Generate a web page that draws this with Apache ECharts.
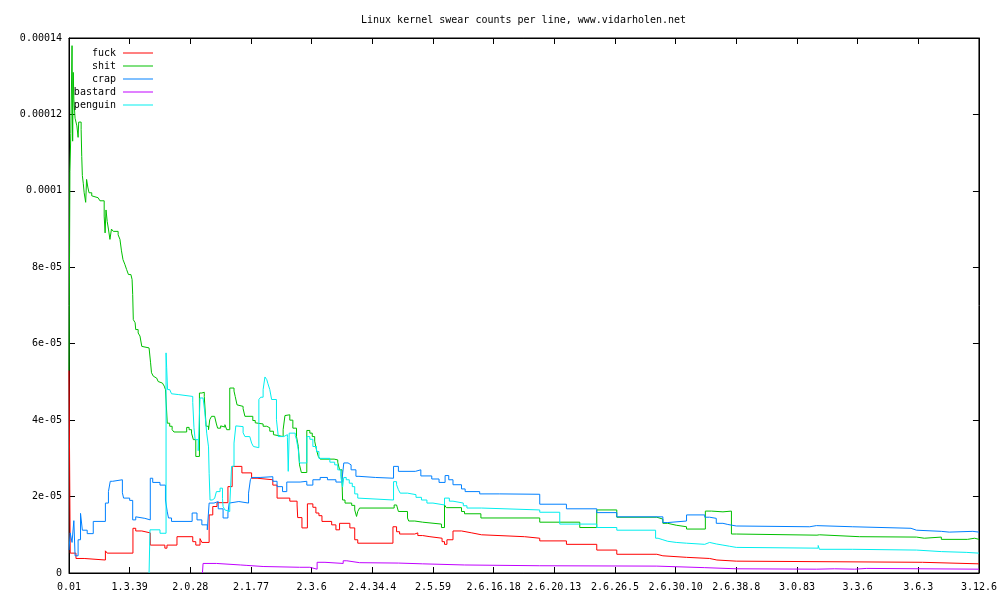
<!DOCTYPE html>
<html>
<head>
<meta charset="utf-8">
<script src="https://cdn.jsdelivr.net/npm/echarts@6/dist/echarts.min.js"></script>
<style>html,body{margin:0;padding:0;background:#fff}#chart{width:1000px;height:600px}</style>
</head>
<body>
<div id="chart"></div>
<script>
// Tick labels (kernel versions) at each x tick, and y tick labels
const xTickLabels = ['0.01','1.3.39','2.0.28','2.1.77','2.3.6','2.4.34.4','2.5.59','2.6.16.18','2.6.20.13','2.6.26.5','2.6.30.10','2.6.38.8','3.0.83','3.3.6','3.6.3','3.12.6'];
const yTickLabels = ['0','2e-05','4e-05','6e-05','8e-05','0.0001','0.00012','0.00014'];
const seriesNames = ['fuck','shit','crap','bastard','penguin'];

// [x position in tick units, swear count per line]
const fuckData = [[0,5.3e-5],[0.02,0.52e-5],[0.115,0.38e-5],[0.25,0.34e-5],[0.6,0.58e-5],[0.63,0.52e-5],[1.054,1.17e-5],[1.1,1.1e-5],[1.2,1.05e-5],[1.34,0.73e-5],[1.58,0.65e-5],[1.615,0.73e-5],[1.78,0.95e-5],[2.04,0.82e-5],[2.09,0.73e-5],[2.16,0.9e-5],[2.19,0.8e-5],[2.31,1.52e-5],[2.37,1.74e-5],[2.44,1.84e-5],[2.62,2.26e-5],[2.69,2.79e-5],[2.85,2.62e-5],[3.01,2.48e-5],[3.1,2.44e-5],[3.36,2.3e-5],[3.43,1.96e-5],[3.64,1.88e-5],[3.76,1.78e-5],[3.77,1.45e-5],[3.84,1.18e-5],[3.93,1.81e-5],[4.02,1.72e-5],[4.07,1.57e-5],[4.12,1.5e-5],[4.17,1.35e-5],[4.33,1.26e-5],[4.4,1.13e-5],[4.46,1.3e-5],[4.63,1.18e-5],[4.71,0.87e-5],[4.76,0.78e-5],[5.34,1.21e-5],[5.4,1.08e-5],[5.45,1.02e-5],[5.7,1.05e-5],[5.75,0.98e-5],[5.83,0.95e-5],[5.95,0.91e-5],[6.15,0.82e-5],[6.19,0.75e-5],[6.23,0.87e-5],[6.33,1.1e-5],[6.47,1.05e-5],[6.64,1.0e-5],[6.8,0.95e-5],[7.51,0.91e-5],[7.76,0.84e-5],[8.2,0.75e-5],[8.7,0.6e-5],[9.03,0.49e-5],[9.69,0.45e-5],[9.79,0.41e-5],[10.18,0.38e-5],[10.56,0.34e-5],[10.68,0.31e-5],[11.0,0.28e-5],[14.07,0.24e-5],[15,0.24e-5]];

const shitData = [[0,5.3e-5],[0.015,10.5e-5],[0.03,11.5e-5],[0.05,13.8e-5],[0.06,11.3e-5],[0.07,13.1e-5],[0.08,12.4e-5],[0.1,11.9e-5],[0.13,11.7e-5],[0.15,11.4e-5],[0.16,11.8e-5],[0.2,11.6e-5],[0.21,10.9e-5],[0.22,10.4e-5],[0.235,10.2e-5],[0.25,9.95e-5],[0.275,9.7e-5],[0.29,10.3e-5],[0.31,10.1e-5],[0.33,9.95e-5],[0.375,9.87e-5],[0.38,9.82e-5],[0.48,9.78e-5],[0.51,9.74e-5],[0.58,9.34e-5],[0.595,8.9e-5],[0.61,9.5e-5],[0.63,9.2e-5],[0.65,9.0e-5],[0.675,8.73e-5],[0.7,9.0e-5],[0.73,8.94e-5],[0.81,8.85e-5],[0.84,8.73e-5],[0.865,8.43e-5],[0.89,8.2e-5],[0.92,8.08e-5],[0.95,7.94e-5],[0.98,7.81e-5],[1.02,7.77e-5],[1.04,7.68e-5],[1.05,7.29e-5],[1.06,6.63e-5],[1.09,6.55e-5],[1.1,6.37e-5],[1.14,6.28e-5],[1.17,6.2e-5],[1.2,5.93e-5],[1.23,5.89e-5],[1.32,5.85e-5],[1.345,5.5e-5],[1.36,5.24e-5],[1.39,5.15e-5],[1.42,5.1e-5],[1.445,5.06e-5],[1.47,5.01e-5],[1.5,4.97e-5],[1.54,4.93e-5],[1.57,4.89e-5],[1.59,4.8e-5],[1.62,3.92e-5],[1.66,3.84e-5],[1.7,3.75e-5],[1.73,3.69e-5],[1.94,3.81e-5],[1.98,3.75e-5],[2.02,3.66e-5],[2.05,3.49e-5],[2.09,3.05e-5],[2.15,4.71e-5],[2.19,4.73e-5],[2.23,4.62e-5],[2.26,3.84e-5],[2.3,3.75e-5],[2.32,4.01e-5],[2.35,4.1e-5],[2.4,4.05e-5],[2.43,3.9e-5],[2.45,3.79e-5],[2.5,3.85e-5],[2.53,3.82e-5],[2.57,3.88e-5],[2.6,3.75e-5],[2.65,4.84e-5],[2.72,4.76e-5],[2.74,4.62e-5],[2.77,4.4e-5],[2.8,4.36e-5],[2.87,4.3e-5],[2.9,4.1e-5],[3.03,3.99e-5],[3.07,3.93e-5],[3.1,3.9e-5],[3.2,3.84e-5],[3.26,3.8e-5],[3.31,3.71e-5],[3.37,3.62e-5],[3.4,3.57e-5],[3.53,3.75e-5],[3.56,4.12e-5],[3.59,4.14e-5],[3.64,4.0e-5],[3.69,3.79e-5],[3.75,3.57e-5],[3.78,3.31e-5],[3.8,2.83e-5],[3.83,2.63e-5],[3.92,3.73e-5],[3.97,3.66e-5],[4.01,3.57e-5],[4.05,3.45e-5],[4.08,3.22e-5],[4.11,3.05e-5],[4.14,2.98e-5],[4.37,2.96e-5],[4.43,2.9e-5],[4.46,2.7e-5],[4.5,2.45e-5],[4.51,1.91e-5],[4.55,1.83e-5],[4.66,1.77e-5],[4.71,1.65e-5],[4.74,1.48e-5],[4.76,1.61e-5],[4.79,1.7e-5],[5.36,1.78e-5],[5.4,1.83e-5],[5.43,1.61e-5],[5.58,1.44e-5],[5.6,1.36e-5],[5.7,1.33e-5],[5.83,1.3e-5],[5.86,1.28e-5],[6.14,1.19e-5],[6.19,1.78e-5],[6.22,1.71e-5],[6.47,1.61e-5],[6.52,1.55e-5],[6.79,1.44e-5],[7.76,1.33e-5],[8.42,1.19e-5],[8.7,1.65e-5],[9.03,1.46e-5],[9.69,1.41e-5],[9.79,1.3e-5],[9.87,1.25e-5],[10.01,1.21e-5],[10.18,1.15e-5],[10.49,1.62e-5],[10.59,1.6e-5],[10.78,1.62e-5],[10.92,1.02e-5],[11.0,0.99e-5],[12.33,1.0e-5],[12.37,0.95e-5],[13.03,0.94e-5],[13.97,0.91e-5],[14.1,0.94e-5],[14.38,0.88e-5],[14.81,0.91e-5],[14.93,0.88e-5],[15,0.88e-5]];

const crapData = [[0,0.6e-5],[0.02,1.05e-5],[0.05,0.8e-5],[0.08,1.37e-5],[0.1,0.45e-5],[0.15,0.87e-5],[0.19,1.56e-5],[0.22,1.12e-5],[0.3,1.03e-5],[0.4,1.35e-5],[0.6,1.83e-5],[0.65,2.13e-5],[0.68,2.4e-5],[0.72,2.44e-5],[0.88,2.1e-5],[0.9,1.96e-5],[1.0,1.9e-5],[1.05,1.39e-5],[1.1,1.47e-5],[1.13,1.43e-5],[1.25,1.39e-5],[1.34,2.48e-5],[1.38,2.37e-5],[1.5,2.3e-5],[1.59,1.91e-5],[1.62,1.6e-5],[1.64,1.44e-5],[1.69,1.35e-5],[2.03,1.57e-5],[2.11,1.39e-5],[2.19,1.26e-5],[2.28,1.13e-5],[2.31,1.83e-5],[2.39,1.87e-5],[2.46,1.68e-5],[2.54,1.44e-5],[2.62,1.57e-5],[2.64,1.83e-5],[2.67,1.87e-5],[2.8,1.83e-5],[2.96,2.09e-5],[2.99,2.44e-5],[3.01,2.5e-5],[3.15,2.52e-5],[3.36,2.4e-5],[3.43,2.26e-5],[3.52,2.13e-5],[3.59,2.38e-5],[3.81,2.4e-5],[3.92,2.3e-5],[4.02,2.44e-5],[4.14,2.5e-5],[4.26,2.44e-5],[4.4,2.38e-5],[4.5,2.44e-5],[4.53,2.88e-5],[4.6,2.83e-5],[4.65,2.7e-5],[4.73,2.53e-5],[4.78,2.5e-5],[5.05,2.48e-5],[5.35,2.79e-5],[5.43,2.66e-5],[5.71,2.7e-5],[5.8,2.54e-5],[5.98,2.46e-5],[6.1,2.37e-5],[6.2,2.55e-5],[6.26,2.44e-5],[6.33,2.31e-5],[6.47,2.2e-5],[6.53,2.13e-5],[6.77,2.07e-5],[7.1,2.06e-5],[7.76,1.8e-5],[8.2,1.68e-5],[8.7,1.58e-5],[9.03,1.47e-5],[9.79,1.32e-5],[9.87,1.36e-5],[10.18,1.52e-5],[10.48,1.46e-5],[10.56,1.43e-5],[10.67,1.3e-5],[10.78,1.27e-5],[10.86,1.23e-5],[11.0,1.21e-5],[12.21,1.24e-5],[12.32,1.21e-5],[12.92,1.17e-5],[13.88,1.12e-5],[13.97,1.09e-5],[14.38,1.07e-5],[14.51,1.09e-5],[14.9,1.07e-5],[15,1.07e-5]];

const bastardData = [[2.2,0],[2.21,0.25e-5],[2.43,0.21e-5],[2.83,0.2e-5],[2.92,0.17e-5],[3.2,0.15e-5],[3.8,0.18e-5],[3.82,0.15e-5],[3.97,0.12e-5],[4.0,0.1e-5],[4.09,0.28e-5],[4.22,0.25e-5],[4.52,0.32e-5],[4.58,0.27e-5],[4.79,0.26e-5],[5.43,0.24e-5],[5.83,0.21e-5],[6.52,0.19e-5],[7.76,0.18e-5],[9.69,0.14e-5],[10.48,0.11e-5],[11.0,0.1e-5],[12.32,0.11e-5],[12.62,0.1e-5],[12.95,0.12e-5],[13.15,0.1e-5],[15,0.1e-5]];

const penguinData = [[1.32,0],[1.335,1.13e-5],[1.5,1.04e-5],[1.6,5.76e-5],[1.61,5.37e-5],[1.625,4.8e-5],[1.66,4.75e-5],[1.69,4.69e-5],[1.72,4.67e-5],[1.8,4.62e-5],[2.04,4.46e-5],[2.06,3.8e-5],[2.08,3.49e-5],[2.13,3.2e-5],[2.16,4.58e-5],[2.21,4.55e-5],[2.24,4.19e-5],[2.27,3.66e-5],[2.3,3.3e-5],[2.31,2.61e-5],[2.325,1.91e-5],[2.36,1.95e-5],[2.4,2.0e-5],[2.43,2.13e-5],[2.49,2.22e-5],[2.53,1.95e-5],[2.54,1.74e-5],[2.57,1.65e-5],[2.6,1.61e-5],[2.65,1.78e-5],[2.68,2.79e-5],[2.72,3.4e-5],[2.75,3.85e-5],[2.78,3.83e-5],[2.87,3.67e-5],[2.9,3.57e-5],[2.98,3.53e-5],[3.01,3.4e-5],[3.04,3.31e-5],[3.07,3.28e-5],[3.13,4.54e-5],[3.16,4.6e-5],[3.2,4.8e-5],[3.23,5.13e-5],[3.26,5.06e-5],[3.28,4.95e-5],[3.31,4.8e-5],[3.34,4.54e-5],[3.42,4.01e-5],[3.45,3.57e-5],[3.54,3.62e-5],[3.6,3.55e-5],[3.614,2.66e-5],[3.63,3.66e-5],[3.73,3.6e-5],[3.75,3.49e-5],[3.78,3.22e-5],[3.8,2.88e-5],[3.92,3.57e-5],[3.97,3.5e-5],[4.02,3.31e-5],[4.08,3.18e-5],[4.12,3.0e-5],[4.3,2.9e-5],[4.38,2.83e-5],[4.43,2.7e-5],[4.48,2.53e-5],[4.51,2.25e-5],[4.53,2.5e-5],[4.57,2.44e-5],[4.62,2.35e-5],[4.67,2.26e-5],[4.71,2.07e-5],[4.76,1.96e-5],[4.79,1.91e-5],[5.35,2.39e-5],[5.4,2.31e-5],[5.43,2.18e-5],[5.46,2.09e-5],[5.58,2.05e-5],[5.72,1.98e-5],[5.81,1.91e-5],[5.9,1.83e-5],[6.0,1.78e-5],[6.19,1.96e-5],[6.27,1.88e-5],[6.33,1.83e-5],[6.5,1.76e-5],[6.56,1.7e-5],[6.8,1.65e-5],[7.76,1.59e-5],[8.09,1.28e-5],[8.7,1.19e-5],[9.03,1.12e-5],[9.67,0.91e-5],[9.71,0.87e-5],[9.79,0.83e-5],[9.87,0.8e-5],[10.01,0.78e-5],[10.18,0.75e-5],[10.48,0.8e-5],[10.56,0.76e-5],[10.67,0.73e-5],[10.78,0.7e-5],[10.89,0.67e-5],[11.0,0.65e-5],[12.35,0.72e-5],[12.37,0.62e-5],[12.92,0.6e-5],[13.97,0.56e-5],[14.38,0.54e-5],[14.79,0.52e-5],[15,0.52e-5]];

const seriesData = [fuckData, shitData, crapData, bastardData, penguinData];
const colors = ['#ff0000','#00c000','#0080ff','#c000ff','#00eeee'];
const FONT = 'DejaVu Sans Mono';

const chart = echarts.init(document.getElementById('chart'), null, {renderer:'canvas'});

const axisCommon = {
  type: 'value',
  axisLine: {show: true, onZero: false, lineStyle: {color: '#000', width: 1}},
  axisTick: {show: true, inside: true, length: 6, lineStyle: {color: '#000', width: 1}},
  splitLine: {show: false}
};

chart.setOption({
  animation: false,
  backgroundColor: '#fff',
  title: {
    text: 'Linux kernel swear counts per line, www.vidarholen.net',
    left: 361, top: 15, padding: 0,
    textStyle: {fontFamily: FONT, fontSize: 10, fontWeight: 'normal', color: '#000'}
  },
  legend: seriesNames.map((n, i) => ({
    data: [n], orient: 'horizontal', right: 847, top: 48 + i * 13,
    align: 'right', icon: 'rect', itemWidth: 30, itemHeight: 1, padding: 0,
    selectedMode: false,
    textStyle: {fontFamily: FONT, fontSize: 10, color: '#000', padding: [0, 2, 0, 0]}
  })),
  grid: {left: 69, right: 20, top: 38, bottom: 27, show: true, borderColor: '#000', borderWidth: 1, containLabel: false},
  xAxis: [
    Object.assign({}, axisCommon, {
      position: 'bottom', min: 0, max: 15, interval: 1,
      axisLabel: {margin: 9, fontFamily: FONT, fontSize: 10, color: '#000',
        formatter: v => xTickLabels[Math.round(v)]}
    }),
    Object.assign({}, axisCommon, {
      position: 'top', min: 0, max: 15, interval: 1, axisLabel: {show: false}
    })
  ],
  yAxis: [
    Object.assign({}, axisCommon, {
      position: 'left', min: 0, max: 0.00014, interval: 0.00002,
      axisLabel: {margin: 7, fontFamily: FONT, fontSize: 10, color: '#000',
        formatter: v => yTickLabels[Math.round(v / 0.00002)]}
    }),
    Object.assign({}, axisCommon, {
      position: 'right', min: 0, max: 0.00014, interval: 0.00002, axisLabel: {show: false}
    })
  ],
  series: seriesNames.map((n, i) => ({
    name: n, type: 'line', step: 'end', xAxisIndex: 0, yAxisIndex: 0,
    data: seriesData[i], showSymbol: false, symbol: 'none',
    color: colors[i],
    lineStyle: {color: colors[i], width: 1},
    z: 2 + i
  }))
});
</script>
</body>
</html>
